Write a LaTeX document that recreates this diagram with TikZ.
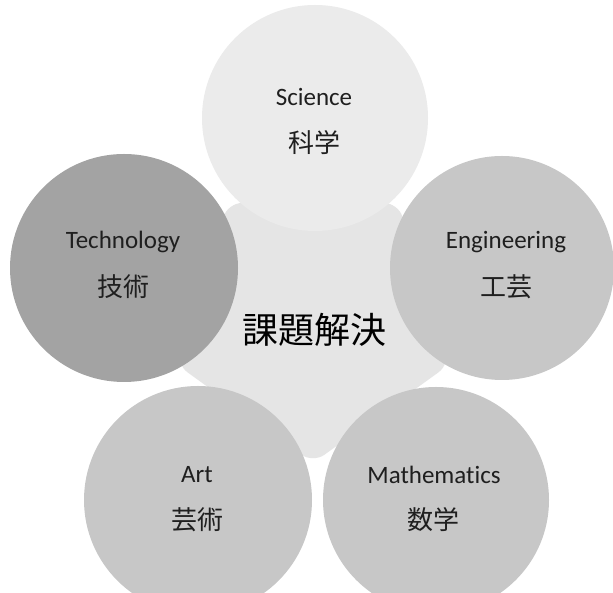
\documentclass[tikz,border=0pt]{standalone}
\usepackage{fontspec}
\setmainfont[Ligatures=NoCommon]{Carlito}
\newfontfamily\jp{Noto Sans CJK JP}
\usetikzlibrary{shapes.geometric}
\begin{document}
\begin{tikzpicture}[x=1pt,y=1pt,
  disc/.style={circle,inner sep=0pt,draw=none},
  en/.style={font=\fontsize{25}{25}\selectfont,text=black!88,inner sep=0pt},
  ja/.style={font=\jp\fontsize{26}{26}\selectfont,text=black!88,inner sep=0pt}]
\useasboundingbox (0,0) rectangle (613,593);
\clip (0,0) rectangle (613,593);
\fill[white] (0,0) rectangle (613,593);
% central pentagon
\fill[black!10,rounded corners=14pt] (313,130) -- (450,229) -- (398,390) -- (228,390) -- (176,229) -- cycle;
% circles
\node[disc,fill=black!8,minimum size=226pt] (sci) at (315,475) {};
\node[disc,fill=black!36,minimum size=228pt] (tech) at (124,325) {};
\node[disc,fill=black!22,minimum size=224pt] (eng) at (502,325) {};
\node[disc,fill=black!22,minimum size=228pt] (art) at (198,93) {};
\node[disc,fill=black!22,minimum size=226pt] (math) at (436,93) {};
% labels
\node[en] (sciEn) at (314,496) {Science};
\node[ja] (sciJa) at (314,450) {科学};
\node[en] (techEn) at (123,351) {Technology};
\node[ja] (techJa) at (123,306) {技術};
\node[en] (engEn) at (506,351) {Engineering};
\node[ja] (engJa) at (506,306) {工芸};
\node[en] (artEn) at (197,118) {Art};
\node[ja] (artJa) at (197,73) {芸術};
\node[en] (mathEn) at (434,118) {Mathematics};
\node[ja] (mathJa) at (433,73) {数学};
\node[font=\jp\fontsize{36}{36}\selectfont,text=black,inner sep=0pt] (goal) at (314,263) {課題解決};
\end{tikzpicture}
\end{document}
